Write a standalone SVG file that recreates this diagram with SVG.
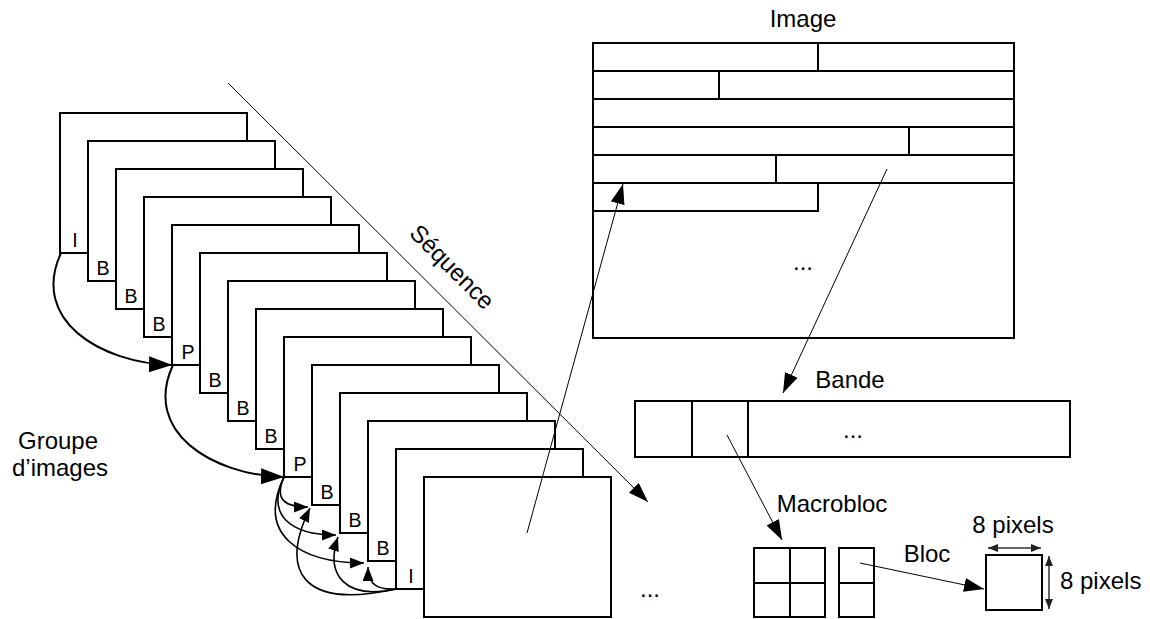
<svg xmlns="http://www.w3.org/2000/svg" width="1150" height="619" viewBox="0 0 1150 619">
<style>
.fr{fill:#fff;stroke:#000;stroke-width:2}
.bx{fill:#fff;stroke:#000;stroke-width:2}
.ln{fill:none;stroke:#000;stroke-width:2}
.t{font-family:"Liberation Sans",Arial,sans-serif;font-size:24px;fill:#000}
.fl{font-family:"Liberation Sans",Arial,sans-serif;font-size:19.5px;fill:#000;text-anchor:middle}
.c{text-anchor:middle}
.cv{fill:none;stroke:#000;stroke-width:2}
.cs{fill:none;stroke:#000;stroke-width:1.6}
.st{fill:none;stroke:#000;stroke-width:1}
.dm{fill:none;stroke:#333;stroke-width:1.5}
</style>
<defs>
<marker id="big" markerUnits="userSpaceOnUse" markerWidth="26" markerHeight="18" refX="23" refY="8" orient="auto"><path d="M0,0 L23,8 L0,16 z" fill="#000"/></marker>
<marker id="med" markerUnits="userSpaceOnUse" markerWidth="22" markerHeight="16" refX="20" refY="7" orient="auto"><path d="M0,0 L20,7 L0,14 z" fill="#000"/></marker>
<marker id="sm" markerUnits="userSpaceOnUse" markerWidth="15" markerHeight="12" refX="14" refY="5.5" orient="auto"><path d="M0,0 L14,5.5 L0,11 z" fill="#000"/></marker>
<marker id="dm" markerUnits="userSpaceOnUse" markerWidth="12" markerHeight="10" refX="10" refY="4" orient="auto-start-reverse"><path d="M0,0 L10,4 L0,8 z" fill="#222"/></marker>
</defs>

<g id="frames">
<g id="f0"><rect class="fr" x="60" y="113" width="187" height="140"/><text class="fl" x="75" y="247">I</text></g>
<g id="f1"><rect class="fr" x="88" y="141" width="187" height="140"/><text class="fl" x="103" y="275">B</text></g>
<g id="f2"><rect class="fr" x="116" y="169" width="187" height="140"/><text class="fl" x="131" y="303">B</text></g>
<g id="f3"><rect class="fr" x="144" y="197" width="187" height="140"/><text class="fl" x="159" y="331">B</text></g>
<g id="f4"><rect class="fr" x="172" y="225" width="187" height="140"/><text class="fl" x="188" y="359">P</text></g>
<g id="f5"><rect class="fr" x="200" y="253" width="187" height="140"/><text class="fl" x="215" y="387">B</text></g>
<g id="f6"><rect class="fr" x="228" y="281" width="187" height="140"/><text class="fl" x="243" y="415">B</text></g>
<g id="f7"><rect class="fr" x="256" y="309" width="187" height="140"/><text class="fl" x="271" y="443">B</text></g>
<g id="f8"><rect class="fr" x="284" y="337" width="187" height="140"/><text class="fl" x="300" y="471">P</text></g>
<g id="f9"><rect class="fr" x="312" y="365" width="187" height="140"/><text class="fl" x="327" y="499">B</text></g>
<g id="f10"><rect class="fr" x="340" y="393" width="187" height="140"/><text class="fl" x="355" y="527">B</text></g>
<g id="f11"><rect class="fr" x="368" y="421" width="187" height="140"/><text class="fl" x="383" y="555">B</text></g>
<g id="f12"><rect class="fr" x="396" y="449" width="187" height="140"/><text class="fl" x="411" y="583">I</text></g>
<g id="f13"><rect class="fr" x="424" y="477" width="187" height="140"/></g>
</g>

<g id="image">
<rect class="bx" x="593" y="43" width="421" height="295"/>
<path class="ln" d="M593,71 H1014 M593,99 H1014 M593,127 H1014 M593,155 H1014 M593,183 H1014 M818,43 V71 M719,71 V99 M909,127 V155 M776,155 V183 M593,211 H818 V183"/>
<text class="t c" x="803" y="27">Image</text>
<text class="t c" x="803" y="270">...</text>
</g>

<g id="bande">
<rect class="bx" x="635" y="401" width="435" height="56"/>
<path class="ln" d="M692,401 V457 M748,401 V457"/>
<text class="t c" x="850" y="388">Bande</text>
<text class="t c" x="853" y="438">...</text>
</g>

<g id="macrobloc">
<rect class="bx" x="754" y="548" width="71" height="69"/>
<path class="ln" d="M790,548 V617 M754,583 H825"/>
<text class="t c" x="832" y="512">Macrobloc</text>
</g>

<g id="blocpair">
<rect class="bx" x="839" y="548" width="35" height="69"/>
<path class="ln" d="M839,583 H874"/>
<text class="t c" x="927" y="562">Bloc</text>
</g>

<g id="bloc">
<rect class="bx" x="986" y="555" width="56" height="55"/>
<text class="t c" x="1013" y="533">8 pixels</text>
<text class="t" x="1060" y="589">8 pixels</text>
</g>

<g id="labels">
<text class="t c" x="58" y="449">Groupe</text>
<text class="t c" x="60" y="476">d’images</text>
<text class="t" transform="translate(452,267) rotate(45)" x="0" y="8" text-anchor="middle">Séquence</text>
<text class="t c" x="650" y="597">...</text>
</g>

<g id="connectors">
<path class="cv" d="M61,253 C30,320 100,363 172,365" marker-end="url(#big)"/>
<path class="cv" d="M173,365 C142,432 212,475 284,477" marker-end="url(#big)"/>
<path class="cs" d="M284,477 C274,500 285,507 308,507" marker-end="url(#sm)"/>
<path class="cs" d="M284,477 C266,515 290,535 336,535" marker-end="url(#sm)"/>
<path class="cs" d="M284,477 C256,535 300,563 364,563" marker-end="url(#sm)"/>
<path class="cs" d="M396,589 C300,610 280,570 310,508" marker-end="url(#sm)"/>
<path class="cs" d="M396,589 C345,600 325,575 338,537" marker-end="url(#sm)"/>
<path class="cs" d="M396,589 C378,590 368,585 368,567" marker-end="url(#sm)"/>
<path class="st" d="M228,83 L648,502" marker-end="url(#med)"/>
<path class="st" d="M527,533 L623,184" marker-end="url(#med)"/>
<path class="st" d="M887,169 L783,393" marker-end="url(#med)"/>
<path class="st" d="M727,435 L782,540" marker-end="url(#med)"/>
<path class="st" d="M860,563 L984,589" marker-end="url(#med)"/>
<path class="dm" d="M988,548 L1041,548" marker-start="url(#dm)" marker-end="url(#dm)"/>
<path class="dm" d="M1049,556 L1049,609" marker-start="url(#dm)" marker-end="url(#dm)"/>
</g>
</svg>
